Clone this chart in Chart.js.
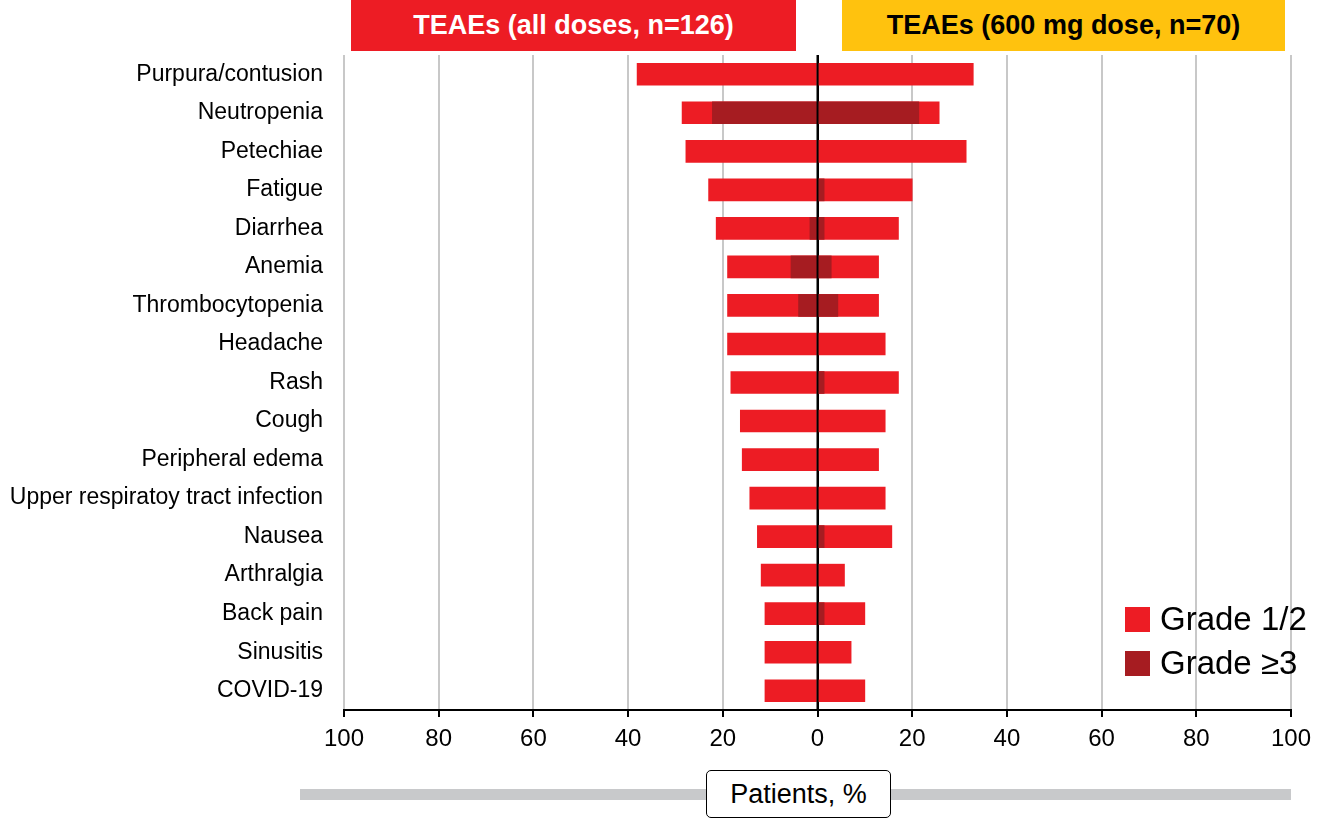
<!DOCTYPE html>
<html>
<head>
<meta charset="utf-8">
<script src="https://cdn.jsdelivr.net/npm/chart.js@4.4.1/dist/chart.umd.min.js"></script>
<style>
  html, body { margin: 0; padding: 0; background: #fff; }
  body { width: 1323px; height: 819px; position: relative; overflow: hidden; font-family: "Liberation Sans", Arial, sans-serif; }
  #wrap { position: absolute; left: 0; top: 0; width: 1323px; height: 819px; }
  .head { position: absolute; top: 0; height: 51px; line-height: 51px; text-align: center; font-weight: bold; font-size: 27px; }
  #head-all { left: 351px; width: 445px; background: #ED1C24; color: #fff; }
  #head-600 { left: 842px; width: 443px; background: #FFC20E; color: #000; }
  #legend { position: absolute; left: 1125px; top: 597px; font-size: 33px; color: #000; }
  #legend div { height: 44px; display: flex; align-items: center; }
  #legend span.sw { display: inline-block; width: 25px; height: 25px; margin-right: 10px; }
  #track { position: absolute; left: 300px; top: 789px; width: 991px; height: 11px; background: #C8C9CB; }
  #xtitle { position: absolute; left: 706px; top: 770px; width: 183px; height: 46px; line-height: 46px; border: 1.5px solid #000; border-radius: 5px; background: #fff; text-align: center; font-size: 27px; color: #000; }
</style>
</head>
<body>
<div id="wrap"><canvas id="chart" width="1323" height="819"></canvas></div>
<div class="head" id="head-all">TEAEs (all doses, n=126)</div>
<div class="head" id="head-600">TEAEs (600 mg dose, n=70)</div>
<div id="legend"></div>
<div id="track"></div>
<div id="xtitle">Patients, %</div>
<script>
const categories = ['Purpura/contusion', 'Neutropenia', 'Petechiae', 'Fatigue', 'Diarrhea', 'Anemia', 'Thrombocytopenia',
  'Headache', 'Rash', 'Cough', 'Peripheral edema', 'Upper respiratoy tract infection', 'Nausea', 'Arthralgia',
  'Back pain', 'Sinusitis', 'COVID-19'];

// all doses (n=126), shown to the left as negative values
const allDosesAny = [-38.1, -28.6, -27.8, -23.0, -21.4, -19.0, -19.0, -19.0, -18.3, -16.3, -15.9, -14.3, -12.7, -11.9, -11.1, -11.1, -11.1];
const allDosesGrade3 = [0, -22.2, 0, 0, -1.6, -5.6, -4.0, 0, 0, 0, 0, 0, 0, 0, 0, 0, 0];

// 600 mg dose (n=70), shown to the right
const dose600Any = [32.9, 25.7, 31.4, 20.0, 17.1, 12.9, 12.9, 14.3, 17.1, 14.3, 12.9, 14.3, 15.7, 5.7, 10.0, 7.1, 10.0];
const dose600Grade3 = [0, 21.4, 0, 1.4, 1.4, 2.9, 4.3, 0, 1.4, 0, 0, 0, 1.4, 0, 1.4, 0, 0];

const xTicks = [-100, -80, -60, -40, -20, 0, 20, 40, 60, 80, 100];

const RED = '#ED1C24';
const DARK = '#A61C21';
const GRID = '#C8C8C8';

const legendItems = [['Grade 1/2', RED], ['Grade \u22653', DARK]];
document.getElementById('legend').innerHTML = legendItems.map(([label, color]) =>
  `<div><span class="sw" style="background:${color}"></span>${label}</div>`).join('');

// black 0 line on top of the bars
const zeroLine = {
  id: 'zeroLine',
  afterDatasetsDraw(chart) {
    const { ctx, chartArea, scales } = chart;
    const x = scales.x.getPixelForValue(0);
    ctx.save();
    ctx.strokeStyle = '#000';
    ctx.lineWidth = 2;
    ctx.beginPath();
    ctx.moveTo(x, chartArea.top);
    ctx.lineTo(x, chartArea.bottom);
    ctx.stroke();
    ctx.restore();
  },
};

const barStyle = { barThickness: 22, grouped: false, borderWidth: 0 };
const labelFont = '"Liberation Sans", Arial';

new Chart(document.getElementById('chart'), {
  type: 'bar',
  data: {
    labels: categories,
    datasets: [
      { label: 'Grade 1/2', data: allDosesAny, backgroundColor: RED, order: 2, ...barStyle },
      { label: 'Grade 1/2 (600 mg)', data: dose600Any, backgroundColor: RED, order: 2, ...barStyle },
      { label: 'Grade \u22653', data: allDosesGrade3, backgroundColor: DARK, order: 1, ...barStyle },
      { label: 'Grade \u22653 (600 mg)', data: dose600Grade3, backgroundColor: DARK, order: 1, ...barStyle },
    ],
  },
  options: {
    indexAxis: 'y',
    responsive: false,
    animation: false,
    layout: { padding: { top: 55, right: 32, left: 0, bottom: 0 } },
    plugins: { legend: { display: false }, tooltip: { enabled: false } },
    scales: {
      x: {
        min: -100,
        max: 100,
        afterBuildTicks: (scale) => { scale.ticks = xTicks.map((value) => ({ value })); },
        afterFit: (scale) => { scale.height = 109; },
        grid: {
          color: (ctx) => (ctx.tick && ctx.tick.value === 0 ? '#000' : GRID),
          lineWidth: 2,
          tickColor: '#000',
          tickLength: 7,
          tickWidth: 2,
        },
        border: { display: true, color: '#000', width: 2 },
        ticks: {
          color: '#000',
          padding: 8,
          font: { family: labelFont, size: 24 },
          callback: (value) => Math.abs(value),
          maxRotation: 0,
        },
      },
      y: {
        afterFit: (scale) => { scale.width = 344; },
        grid: { display: false },
        border: { display: false },
        ticks: {
          color: '#000',
          padding: 13,
          font: { family: labelFont, size: 23 },
        },
      },
    },
  },
  plugins: [zeroLine],
});
</script>
</body>
</html>
